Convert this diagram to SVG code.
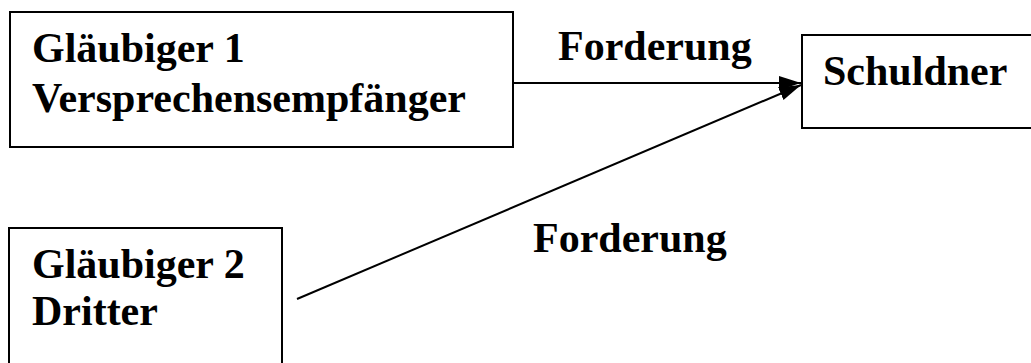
<svg xmlns="http://www.w3.org/2000/svg" width="1031" height="363" viewBox="0 0 1031 363">
<style>
.box{fill:#fff;stroke:#000;stroke-width:2}
.t{font-family:"Liberation Serif","Times New Roman",serif;font-weight:bold;font-size:42px;fill:#000}
.c{stroke:#000;stroke-width:2;fill:none}
</style>
<defs>
<marker id="ah" markerUnits="userSpaceOnUse" markerWidth="24" markerHeight="16" refX="22" refY="7" orient="auto">
<path d="M0,0 L22,7 L0,14 z" fill="#000"/>
</marker>
</defs>
<rect width="1031" height="363" fill="#fff"/>
<g id="glaeubiger1">
<rect class="box" x="10" y="12" width="503" height="135"/>
<text class="t" x="32" y="62">Gläubiger 1</text>
<text class="t" x="32" y="112">Versprechensempfänger</text>
</g>
<g id="schuldner">
<rect class="box" x="802" y="35" width="260" height="93"/>
<text class="t" x="823" y="85">Schuldner</text>
</g>
<g id="glaeubiger2">
<rect class="box" x="9" y="228" width="273" height="160"/>
<text class="t" x="32" y="278">Gläubiger 2</text>
<text class="t" x="32" y="325">Dritter</text>
</g>
<g id="connectors">
<line class="c" x1="513" y1="83" x2="801" y2="83" marker-end="url(#ah)"/>
<line class="c" x1="297" y1="299" x2="801" y2="85" marker-end="url(#ah)"/>
<text class="t" x="558" y="60">Forderung</text>
<text class="t" x="533" y="252">Forderung</text>
</g>
</svg>
